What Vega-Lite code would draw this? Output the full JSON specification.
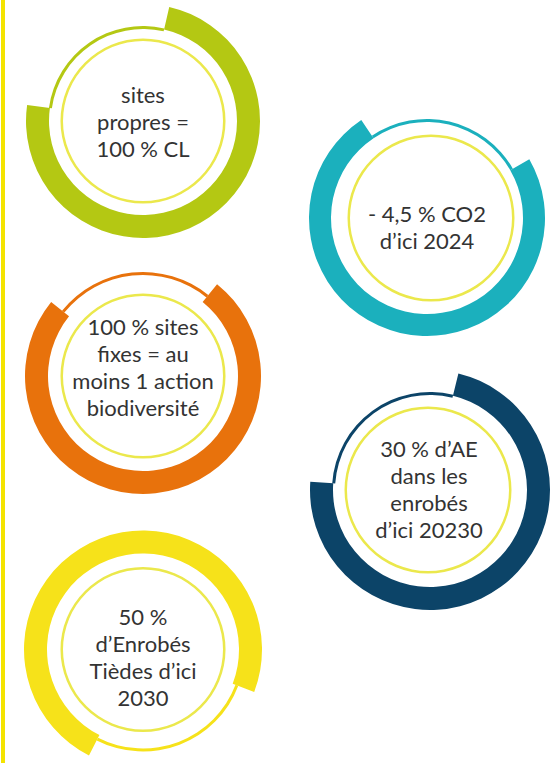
{
  "$schema": "https://vega.github.io/schema/vega-lite/v6.json",
  "padding": 0,
  "background": "white",
  "config": {"view": {"stroke": null}},
  "datasets": {
    "rings": [
      {"goal": "sites propres", "part": "atteint", "start": 3.6, "end": 77.2},
      {"goal": "sites propres", "part": "reste", "start": 77.2, "end": 103.6},
      {"goal": "CO2", "part": "atteint", "start": 16.7, "end": 90.6},
      {"goal": "CO2", "part": "reste", "start": 90.6, "end": 116.7},
      {"goal": "biodiversité", "part": "atteint", "start": 10.8, "end": 85.8},
      {"goal": "biodiversité", "part": "reste", "start": 85.8, "end": 110.8},
      {"goal": "AE", "part": "atteint", "start": 3.8, "end": 76.1},
      {"goal": "AE", "part": "reste", "start": 76.1, "end": 103.8},
      {"goal": "enrobés tièdes", "part": "atteint", "start": 57.5, "end": 130.8},
      {"goal": "enrobés tièdes", "part": "reste", "start": 130.8, "end": 157.5}
    ],
    "labels": [
      {"goal": "sites propres", "label": "sites\npropres =\n100 % CL"},
      {"goal": "CO2", "label": "- 4,5 % CO2\nd’ici 2024"},
      {"goal": "biodiversité", "label": "100 % sites\nfixes = au\nmoins 1 action\nbiodiversité"},
      {"goal": "AE", "label": "30 % d’AE\ndans les\nenrobés\nd’ici 20230"},
      {"goal": "enrobés tièdes", "label": "50 %\nd’Enrobés\nTièdes d’ici\n2030"}
    ]
  },
  "spacing": 0,
  "hconcat": [
    {
      "width": 4, "height": 763,
      "view": {"fill": "#f4e300", "stroke": null},
      "data": {"values": [{}]},
      "mark": {"type": "point", "opacity": 0},
      "encoding": {}
    },
    {
      "spacing": 21,
      "hconcat": [
        {
          "spacing": 0,
          "bounds": "flush",
          "vconcat": [
            {
              "width": 274, "height": 242,
              "layer": [
                {"data": {"name": "rings"}, "transform": [{"filter": "datum.goal === 'sites propres' && datum.part === 'atteint'"}],
                 "mark": {"type": "arc", "innerRadius": 94, "outerRadius": 117},
                 "encoding": {"theta": {"field": "start", "type": "quantitative", "scale": {"domain": [0, 100]}, "stack": null}, "theta2": {"field": "end"},
                   "color": {"field": "goal", "type": "nominal", "legend": null, "scale": {"domain": ["sites propres", "CO2", "biodiversité", "AE", "enrobés tièdes"], "range": ["#b4c813", "#1bb0bd", "#e8720c", "#0c4468", "#f6e21a"]}}}},
                {"data": {"name": "rings"}, "transform": [{"filter": "datum.goal === 'sites propres' && datum.part === 'reste'"}],
                 "mark": {"type": "arc", "innerRadius": 92, "outerRadius": 95},
                 "encoding": {"theta": {"field": "start", "type": "quantitative", "scale": {"domain": [0, 100]}, "stack": null}, "theta2": {"field": "end"},
                   "color": {"field": "goal", "type": "nominal", "legend": null, "scale": {"domain": ["sites propres", "CO2", "biodiversité", "AE", "enrobés tièdes"], "range": ["#b4c813", "#1bb0bd", "#e8720c", "#0c4468", "#f6e21a"]}}}},
                {"data": {"name": "labels"}, "transform": [{"filter": "datum.goal === 'sites propres'"}],
                 "mark": {"type": "arc", "innerRadius": 80, "outerRadius": 82.5, "color": "#ebe84c"},
                 "encoding": {"theta": {"datum": 0, "type": "quantitative", "scale": {"domain": [0, 100]}}, "theta2": {"datum": 100}}},
                {"data": {"name": "labels"}, "transform": [{"filter": "datum.goal === 'sites propres'"}],
                 "mark": {"type": "text", "font": "Lato", "fontSize": 22, "lineHeight": 27, "lineBreak": "\n", "color": "#333333", "align": "center", "baseline": "middle", "dy": -25},
                 "encoding": {"text": {"field": "label"}}}
              ]
            },
            {
              "width": 274, "height": 268,
              "layer": [
                {"data": {"name": "rings"}, "transform": [{"filter": "datum.goal === 'biodiversité' && datum.part === 'atteint'"}],
                 "mark": {"type": "arc", "innerRadius": 95, "outerRadius": 118},
                 "encoding": {"theta": {"field": "start", "type": "quantitative", "scale": {"domain": [0, 100]}, "stack": null}, "theta2": {"field": "end"},
                   "color": {"field": "goal", "type": "nominal", "legend": null, "scale": {"domain": ["sites propres", "CO2", "biodiversité", "AE", "enrobés tièdes"], "range": ["#b4c813", "#1bb0bd", "#e8720c", "#0c4468", "#f6e21a"]}}}},
                {"data": {"name": "rings"}, "transform": [{"filter": "datum.goal === 'biodiversité' && datum.part === 'reste'"}],
                 "mark": {"type": "arc", "innerRadius": 101, "outerRadius": 104},
                 "encoding": {"theta": {"field": "start", "type": "quantitative", "scale": {"domain": [0, 100]}, "stack": null}, "theta2": {"field": "end"},
                   "color": {"field": "goal", "type": "nominal", "legend": null, "scale": {"domain": ["sites propres", "CO2", "biodiversité", "AE", "enrobés tièdes"], "range": ["#b4c813", "#1bb0bd", "#e8720c", "#0c4468", "#f6e21a"]}}}},
                {"data": {"name": "labels"}, "transform": [{"filter": "datum.goal === 'biodiversité'"}],
                 "mark": {"type": "arc", "innerRadius": 80, "outerRadius": 82.5, "color": "#ebe84c"},
                 "encoding": {"theta": {"datum": 0, "type": "quantitative", "scale": {"domain": [0, 100]}}, "theta2": {"datum": 100}}},
                {"data": {"name": "labels"}, "transform": [{"filter": "datum.goal === 'biodiversité'"}],
                 "mark": {"type": "text", "font": "Lato", "fontSize": 22, "lineHeight": 27, "lineBreak": "\n", "color": "#333333", "align": "center", "baseline": "middle", "dy": -48},
                 "encoding": {"text": {"field": "label"}}}
              ]
            },
            {
              "width": 274, "height": 253,
              "layer": [
                {"data": {"name": "rings"}, "transform": [{"filter": "datum.goal === 'enrobés tièdes' && datum.part === 'atteint'"}],
                 "mark": {"type": "arc", "innerRadius": 96, "outerRadius": 119, "yOffset": 13},
                 "encoding": {"theta": {"field": "start", "type": "quantitative", "scale": {"domain": [0, 100]}, "stack": null}, "theta2": {"field": "end"},
                   "color": {"field": "goal", "type": "nominal", "legend": null, "scale": {"domain": ["sites propres", "CO2", "biodiversité", "AE", "enrobés tièdes"], "range": ["#b4c813", "#1bb0bd", "#e8720c", "#0c4468", "#f6e21a"]}}}},
                {"data": {"name": "rings"}, "transform": [{"filter": "datum.goal === 'enrobés tièdes' && datum.part === 'reste'"}],
                 "mark": {"type": "arc", "innerRadius": 99, "outerRadius": 102, "yOffset": 13},
                 "encoding": {"theta": {"field": "start", "type": "quantitative", "scale": {"domain": [0, 100]}, "stack": null}, "theta2": {"field": "end"},
                   "color": {"field": "goal", "type": "nominal", "legend": null, "scale": {"domain": ["sites propres", "CO2", "biodiversité", "AE", "enrobés tièdes"], "range": ["#b4c813", "#1bb0bd", "#e8720c", "#0c4468", "#f6e21a"]}}}},
                {"data": {"name": "labels"}, "transform": [{"filter": "datum.goal === 'enrobés tièdes'"}],
                 "mark": {"type": "arc", "innerRadius": 80, "outerRadius": 82.5, "color": "#ebe84c", "yOffset": 13},
                 "encoding": {"theta": {"datum": 0, "type": "quantitative", "scale": {"domain": [0, 100]}}, "theta2": {"datum": 100}}},
                {"data": {"name": "labels"}, "transform": [{"filter": "datum.goal === 'enrobés tièdes'"}],
                 "mark": {"type": "text", "font": "Lato", "fontSize": 22, "lineHeight": 27, "lineBreak": "\n", "color": "#333333", "align": "center", "baseline": "middle", "dy": -19},
                 "encoding": {"text": {"field": "label"}}}
              ]
            }
          ]
        },
        {
          "spacing": 0,
          "bounds": "flush",
          "vconcat": [
            {
              "width": 252, "height": 436,
              "layer": [
                {"data": {"name": "rings"}, "transform": [{"filter": "datum.goal === 'CO2' && datum.part === 'atteint'"}],
                 "mark": {"type": "arc", "innerRadius": 96, "outerRadius": 118},
                 "encoding": {"theta": {"field": "start", "type": "quantitative", "scale": {"domain": [0, 100]}, "stack": null}, "theta2": {"field": "end"},
                   "color": {"field": "goal", "type": "nominal", "legend": null, "scale": {"domain": ["sites propres", "CO2", "biodiversité", "AE", "enrobés tièdes"], "range": ["#b4c813", "#1bb0bd", "#e8720c", "#0c4468", "#f6e21a"]}}}},
                {"data": {"name": "rings"}, "transform": [{"filter": "datum.goal === 'CO2' && datum.part === 'reste'"}],
                 "mark": {"type": "arc", "innerRadius": 96, "outerRadius": 99},
                 "encoding": {"theta": {"field": "start", "type": "quantitative", "scale": {"domain": [0, 100]}, "stack": null}, "theta2": {"field": "end"},
                   "color": {"field": "goal", "type": "nominal", "legend": null, "scale": {"domain": ["sites propres", "CO2", "biodiversité", "AE", "enrobés tièdes"], "range": ["#b4c813", "#1bb0bd", "#e8720c", "#0c4468", "#f6e21a"]}}}},
                {"data": {"name": "labels"}, "transform": [{"filter": "datum.goal === 'CO2'"}],
                 "mark": {"type": "arc", "innerRadius": 81, "outerRadius": 83.5, "color": "#ebe84c", "xOffset": 4},
                 "encoding": {"theta": {"datum": 0, "type": "quantitative", "scale": {"domain": [0, 100]}}, "theta2": {"datum": 100}}},
                {"data": {"name": "labels"}, "transform": [{"filter": "datum.goal === 'CO2'"}],
                 "mark": {"type": "text", "font": "Lato", "fontSize": 22, "lineHeight": 27, "lineBreak": "\n", "color": "#333333", "align": "center", "baseline": "middle", "dy": -3},
                 "encoding": {"text": {"field": "label"}}}
              ]
            },
            {
              "width": 252, "height": 108,
              "layer": [
                {"data": {"name": "rings"}, "transform": [{"filter": "datum.goal === 'AE' && datum.part === 'atteint'"}],
                 "mark": {"type": "arc", "innerRadius": 97, "outerRadius": 120, "xOffset": 3},
                 "encoding": {"theta": {"field": "start", "type": "quantitative", "scale": {"domain": [0, 100]}, "stack": null}, "theta2": {"field": "end"},
                   "color": {"field": "goal", "type": "nominal", "legend": null, "scale": {"domain": ["sites propres", "CO2", "biodiversité", "AE", "enrobés tièdes"], "range": ["#b4c813", "#1bb0bd", "#e8720c", "#0c4468", "#f6e21a"]}}}},
                {"data": {"name": "rings"}, "transform": [{"filter": "datum.goal === 'AE' && datum.part === 'reste'"}],
                 "mark": {"type": "arc", "innerRadius": 95, "outerRadius": 98, "xOffset": 3},
                 "encoding": {"theta": {"field": "start", "type": "quantitative", "scale": {"domain": [0, 100]}, "stack": null}, "theta2": {"field": "end"},
                   "color": {"field": "goal", "type": "nominal", "legend": null, "scale": {"domain": ["sites propres", "CO2", "biodiversité", "AE", "enrobés tièdes"], "range": ["#b4c813", "#1bb0bd", "#e8720c", "#0c4468", "#f6e21a"]}}}},
                {"data": {"name": "labels"}, "transform": [{"filter": "datum.goal === 'AE'"}],
                 "mark": {"type": "arc", "innerRadius": 81, "outerRadius": 83.5, "color": "#ebe84c", "xOffset": 1},
                 "encoding": {"theta": {"datum": 0, "type": "quantitative", "scale": {"domain": [0, 100]}}, "theta2": {"datum": 100}}},
                {"data": {"name": "labels"}, "transform": [{"filter": "datum.goal === 'AE'"}],
                 "mark": {"type": "text", "font": "Lato", "fontSize": 22, "lineHeight": 27, "lineBreak": "\n", "color": "#333333", "align": "center", "baseline": "middle", "dy": -40, "dx": 2},
                 "encoding": {"text": {"field": "label"}}}
              ]
            }
          ]
        }
      ]
    }
  ]
}
